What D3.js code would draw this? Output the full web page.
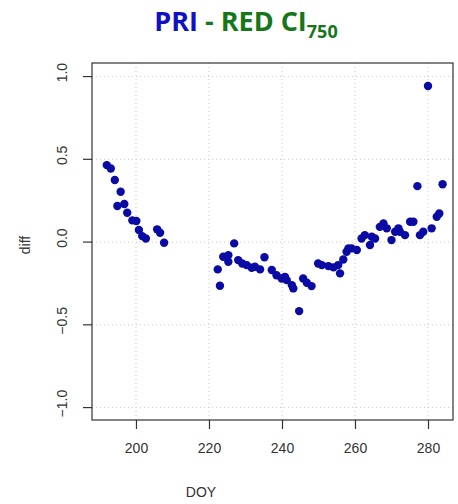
<!DOCTYPE html>
<meta charset="UTF-8">
<html>
<head>
<script src="https://d3js.org/d3.v7.min.js"></script>
<style>
  body { margin: 0; background: #fff; }
  .Chart text { font-family: "Liberation Sans", Arial, sans-serif; fill: #333; }
</style>
</head>
<body>
<svg class="Chart"></svg>
<script>
// day of year and diff values
var Doy = [192.0, 193.1, 194.2, 195.8, 194.9, 196.8, 197.6, 199.0, 200.1, 200.8, 201.7, 202.7, 205.8, 206.6, 207.7,
           222.4, 223.0, 223.9, 225.3, 225.3, 226.9, 228.0, 229.1, 230.3, 231.7, 232.6, 234.0, 235.2, 237.2, 238.5, 239.9,
           240.8, 241.3, 242.7, 243.1, 244.7, 245.8, 246.8, 248.1, 249.9, 250.9, 252.7, 254.1, 255.4, 255.9, 256.8, 258.2,
           257.7, 259.1, 260.5, 261.8, 262.7, 264.1, 264.6, 265.5, 266.8, 267.8, 268.7, 270.0, 271.0, 271.9, 272.3, 273.7,
           275.1, 276.0, 277.1, 277.8, 278.7, 280.0, 281.0, 282.4, 283.1, 284.0];
var Diff = [0.465, 0.445, 0.375, 0.304, 0.218, 0.23, 0.177, 0.131, 0.127, 0.073, 0.036, 0.022, 0.077, 0.056, -0.004,
            -0.165, -0.264, -0.089, -0.079, -0.119, -0.008, -0.109, -0.129, -0.139, -0.155, -0.149, -0.165, -0.092, -0.169, -0.2, -0.22,
            -0.21, -0.23, -0.26, -0.28, -0.417, -0.22, -0.246, -0.266, -0.129, -0.139, -0.145, -0.153, -0.139, -0.189, -0.105, -0.038,
            -0.058, -0.038, -0.048, 0.022, 0.042, -0.018, 0.032, 0.022, 0.092, 0.113, 0.083, 0.012, 0.062, 0.083, 0.062, 0.042,
            0.123, 0.123, 0.338, 0.042, 0.062, 0.943, 0.083, 0.153, 0.173, 0.349];
var XTicks = [200, 220, 240, 260, 280];
var YTicks = [-1.0, -0.5, 0.0, 0.5, 1.0];

var Width = 458, Height = 504;
var Box = {"Left": 92, "Top": 63, "Right": 453, "Bottom": 420};

var XScale = d3.scaleLinear().domain([187.95, 286.85]).range([Box.Left, Box.Right]);
var YScale = d3.scaleLinear().domain([-1.075, 1.082]).range([Box.Bottom, Box.Top]);

var Svg = d3.select(".Chart").attr("width", Width).attr("height", Height);

// title
var Title = Svg.append("text")
  .attr("x", 246).attr("y", 31)
  .attr("text-anchor", "middle")
  .style("font-family", "'Open Sans', 'Liberation Sans', sans-serif")
  .style("font-weight", "bold")
  .style("font-size", "27px");
Title.append("tspan").text("PRI").style("fill", "#1010c4");
Title.append("tspan").text(" - RED CI").style("fill", "#16761a");
Title.append("tspan").text("750").attr("dy", 7).style("font-size", "18px").style("fill", "#16761a");

// grid
var Grid = Svg.append("g");
Grid.selectAll(".gx").data(XTicks).enter().append("line")
  .attr("x1", function(D){ return XScale(D); }).attr("x2", function(D){ return XScale(D); })
  .attr("y1", Box.Top).attr("y2", Box.Bottom);
Grid.selectAll(".gy").data(YTicks).enter().append("line")
  .attr("y1", function(D){ return YScale(D); }).attr("y2", function(D){ return YScale(D); })
  .attr("x1", Box.Left).attr("x2", Box.Right);
Grid.selectAll("line").attr("stroke", "#c8c8c8").attr("stroke-width", 1).attr("stroke-dasharray", "1,3");

// points
Svg.append("g").selectAll("circle")
  .data(Doy.map(function(D, I){ return {"X": D, "Y": Diff[I]}; }))
  .enter().append("circle")
  .attr("cx", function(D){ return XScale(D.X); })
  .attr("cy", function(D){ return YScale(D.Y); })
  .attr("r", 4.2)
  .attr("fill", "#0a0aa4");

// box
Svg.append("rect")
  .attr("x", Box.Left).attr("y", Box.Top)
  .attr("width", Box.Right - Box.Left).attr("height", Box.Bottom - Box.Top)
  .attr("fill", "none").attr("stroke", "#333").attr("stroke-width", 1.2);

// axes
var XAxis = Svg.append("g").attr("transform", "translate(0," + Box.Bottom + ")")
  .call(d3.axisBottom(XScale).tickValues(XTicks).tickFormat(d3.format("d")).tickSize(9).tickPadding(14));
var YAxis = Svg.append("g").attr("transform", "translate(" + Box.Left + ",0)")
  .call(d3.axisLeft(YScale).tickValues(YTicks).tickFormat(d3.format(".1f")).tickSize(9));
[XAxis, YAxis].forEach(function(A){
  A.select(".domain").remove();
  A.selectAll("line").attr("stroke", "#333").attr("stroke-width", 1.2);
  A.selectAll("text").style("font-size", "14px").style("fill", "#333");
});
// rotate y tick labels like R does
YAxis.selectAll(".tick").attr("transform", null);
YAxis.selectAll(".tick line").attr("y1", function(D){ return YScale(D); }).attr("y2", function(D){ return YScale(D); });
YAxis.selectAll("text")
  .attr("x", -26).attr("y", function(D){ return YScale(D); }).attr("dy", "0.35em")
  .attr("text-anchor", "middle")
  .attr("transform", function(D){ return "rotate(-90," + (-30) + "," + YScale(D) + ")"; });

Svg.append("text").text("DOY")
  .attr("x", 201).attr("y", 497).attr("text-anchor", "middle").style("font-size", "14px");
Svg.append("text").text("diff")
  .attr("transform", "translate(30,245) rotate(-90)").attr("text-anchor", "middle").style("font-size", "14px");
</script>
</body>
</html>
